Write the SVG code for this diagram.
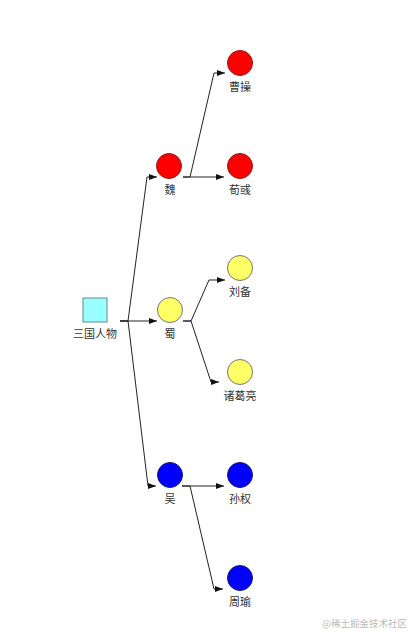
<svg xmlns="http://www.w3.org/2000/svg" width="414" height="641" viewBox="0 0 414 641">
<style>
.lbl{font-family:"Noto Sans CJK SC","Liberation Sans",sans-serif;font-size:11px;fill:#333;text-anchor:middle}
.link{fill:none;stroke:#222;stroke-width:1;marker-end:url(#arr)}
.red{fill:#ff0000;stroke:#8a1a1a;stroke-width:1}
.yel{fill:#ffff66;stroke:#777;stroke-width:1}
.blu{fill:#0000ff;stroke:#1a1a66;stroke-width:1}
.wm{font-family:"Noto Sans CJK SC","Liberation Sans",sans-serif;font-size:9.5px;fill:#bbb}
</style>
<defs>
<marker id="arr" markerWidth="8" markerHeight="6" refX="8" refY="3" orient="auto" markerUnits="userSpaceOnUse">
<path d="M0,0 L8,3 L0,6 z" fill="#111"/>
</marker>
</defs>
<rect width="414" height="641" fill="#fff"/>
<g id="connectors">
<path class="link" d="M120,321 H128 L147,177 H157"/>
<path class="link" d="M120,321 H157"/>
<path class="link" d="M120,321 H128 L148,486 H156"/>
<path class="link" d="M183,177 H190 L214,73 H225"/>
<path class="link" d="M183,177 H224"/>
<path class="link" d="M183,321 H191 L209,280 H225"/>
<path class="link" d="M183,321 H191 L211,382 H219"/>
<path class="link" d="M182,486 H224"/>
<path class="link" d="M182,486 H190 L214,589 H223"/>
</g>
<g id="root">
<rect x="83" y="298" width="24" height="24" fill="#99ffff" stroke="#668888" stroke-width="1"/>
<text class="lbl" x="95" y="338">三国人物</text>
</g>
<g id="wei">
<circle class="red" cx="169" cy="166" r="12.5"/>
<text class="lbl" x="170" y="194">魏</text>
</g>
<g id="shu">
<circle class="yel" cx="170" cy="310" r="12.5"/>
<text class="lbl" x="170" y="338">蜀</text>
</g>
<g id="wu">
<circle class="blu" cx="170" cy="475" r="12.5"/>
<text class="lbl" x="170" y="503">吴</text>
</g>
<g id="caocao">
<circle class="red" cx="240" cy="63" r="12.5"/>
<text class="lbl" x="240" y="91">曹操</text>
</g>
<g id="xunyu">
<circle class="red" cx="240" cy="166" r="12.5"/>
<text class="lbl" x="240" y="194">荀彧</text>
</g>
<g id="liubei">
<circle class="yel" cx="240" cy="268" r="12.5"/>
<text class="lbl" x="240" y="296">刘备</text>
</g>
<g id="zhugeliang">
<circle class="yel" cx="240" cy="372" r="12.5"/>
<text class="lbl" x="240" y="400">诸葛亮</text>
</g>
<g id="sunquan">
<circle class="blu" cx="240" cy="475" r="12.5"/>
<text class="lbl" x="240" y="503">孙权</text>
</g>
<g id="zhouyu">
<circle class="blu" cx="240" cy="578" r="12.5"/>
<text class="lbl" x="240" y="606">周瑜</text>
</g>
<text class="wm" x="322" y="627">@稀土掘金技术社区</text>
</svg>
